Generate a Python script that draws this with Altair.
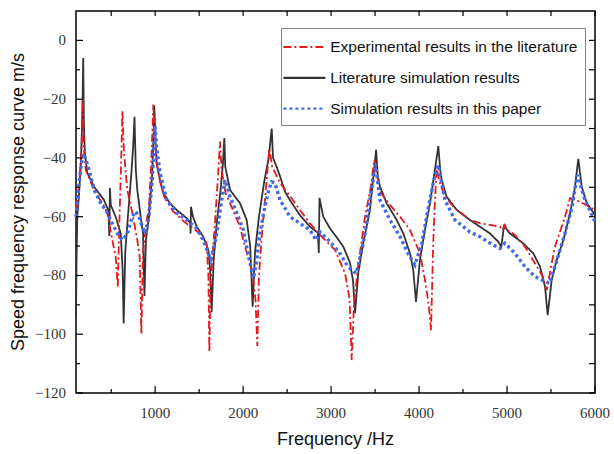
import altair as alt
import pandas as pd

# ---- data ----
series_names = [
    "Experimental results in the literature",
    "Literature simulation results",
    "Simulation results in this paper",
]

exp_freq = [100, 140, 165, 178, 188, 210, 305, 418, 456, 513, 551, 575, 590, 610, 628, 645, 683, 740, 797, 824, 843,
            862, 900, 930, 955, 979, 995, 1020, 1055, 1100, 1200, 1320, 1510, 1585, 1605, 1616, 1630, 1680, 1715, 1737,
            1755, 1800, 1850, 1964, 2021, 2100, 2140, 2161, 2180, 2215, 2260, 2298, 2330, 2419, 2533, 2646, 2760, 2874,
            3044, 3158, 3210, 3234, 3260, 3306, 3386, 3450, 3490, 3520, 3555, 3669, 3783, 3896, 4010, 4067, 4110, 4136,
            4160, 4180, 4200, 4230, 4294, 4408, 4578, 4692, 4806, 4919, 4950, 4976, 5000, 5090, 5204, 5318, 5400, 5451,
            5500, 5545, 5659, 5716, 5829, 6000]
exp_val = [-57, -48, -35, -20, -36, -44, -50.9, -56.4, -58.7, -68, -73.6, -84, -65, -45, -24, -38, -50.9, -58.7, -68,
           -73.6, -99.8, -72, -62, -56.4, -42, -21.8, -34, -42, -48, -53, -58, -61.5, -65.7, -69, -80, -106, -82, -62,
           -46, -34.4, -44, -52, -55.4, -63.4, -70.2, -78, -88, -104, -80, -65.6, -50, -36.7, -43, -48.5, -53, -57.7,
           -62.3, -66.2, -71.3, -79.2, -88, -108.8, -90, -77, -60, -50, -40.7, -45, -51.5, -56, -60, -64.5, -72.4,
           -81.5, -90, -98.6, -70, -55, -43, -48, -53.2, -57.2, -61, -62.2, -62.8, -63.4, -64.5, -62.8, -64.5, -66.2,
           -70.2, -75.9, -80, -85, -77, -70.2, -60, -53.7, -54.9, -57.7]

lit_freq = [100, 106, 115, 135, 155, 168, 176, 182, 190, 200, 228, 305, 418, 470, 478, 486, 495, 551, 608, 630, 642,
            660, 690, 730, 750, 765, 780, 797, 835, 862, 878, 895, 930, 967, 980, 990, 1005, 1017, 1055, 1093, 1170,
            1245, 1358, 1398, 1402, 1407, 1430, 1472, 1547, 1604, 1625, 1642, 1665, 1700, 1740, 1770, 1786, 1797, 1851,
            1964, 2040, 2080, 2108, 2135, 2180, 2240, 2290, 2325, 2340, 2381, 2419, 2476, 2533, 2646, 2760, 2850, 2860,
            2868, 2911, 2987, 3063, 3139, 3215, 3250, 3272, 3309, 3366, 3442, 3480, 3512, 3530, 3555, 3631, 3745, 3821,
            3897, 3934, 3965, 4010, 4067, 4124, 4180, 4219, 4240, 4257, 4314, 4428, 4578, 4692, 4806, 4900, 4935, 4965,
            5033, 5185, 5299, 5375, 5432, 5462, 5508, 5564, 5640, 5716, 5773, 5810, 5849, 5906, 6000]
lit_val = [-94, -75, -60, -52, -42, -30, -18, -6, -28, -38, -45, -49.8, -54.3, -58, -66.6, -50.2, -56, -60, -65.7, -78,
           -96.3, -72, -60, -45, -36, -26, -44, -50.9, -60, -65.7, -87, -68, -60, -45, -34, -22.2, -35, -42, -47.5,
           -52, -55.5, -57.7, -60.5, -62, -65.7, -56.6, -60, -63.4, -66.8, -71.3, -78, -92.4, -75, -62, -52, -42,
           -33.2, -43, -50.9, -55.4, -61.1, -70, -90.6, -72, -60, -48, -40, -30, -40, -43, -46.2, -51.5, -54.4, -59.5,
           -63.4, -65.5, -72.4, -53.6, -60, -64, -67, -70.2, -75.7, -82, -92.8, -79, -68.9, -57.7, -46.3, -37.2, -46,
           -49.7, -55.4, -61.1, -65.7, -72.5, -78.2, -89, -74.7, -64.5, -55.4, -44.1, -36, -44, -47.5, -53.2, -57.7,
           -61.1, -63.4, -65.7, -68.5, -70.2, -63.2, -65.7, -69.1, -72.5, -77, -83.8, -93.5, -81.5, -74.7, -68, -58.9,
           -49.8, -40.3, -49.8, -55.4, -59.4]

sim_freq = [100, 130, 160, 188, 248, 305, 381, 456, 513, 570, 627, 683, 740, 778, 816, 854, 892, 930, 967, 985, 998,
            1015, 1055, 1131, 1245, 1358, 1472, 1547, 1604, 1630, 1680, 1718, 1756, 1794, 1851, 1927, 2002, 2040, 2080,
            2116, 2150, 2191, 2248, 2290, 2325, 2362, 2419, 2533, 2646, 2760, 2828, 2874, 2987, 3101, 3192, 3283, 3330,
            3386, 3465, 3505, 3555, 3669, 3783, 3874, 3953, 4033, 4101, 4169, 4219, 4294, 4408, 4578, 4692, 4806, 4919,
            4976, 5090, 5204, 5318, 5480, 5545, 5659, 5739, 5799, 5886, 6000]
sim_val = [-60, -50, -42, -38.5, -43.9, -50.8, -55.4, -58.7, -62.3, -65.7, -68, -65.7, -60, -58.2, -60, -63.4, -65.7,
           -60, -47.5, -37, -29.2, -36, -45, -54.3, -58.7, -61.1, -64, -68, -72.5, -74.5, -69, -62.3, -54.3, -47.5,
           -53.2, -58.7, -64.5, -70.2, -76, -81, -76, -65.6, -56.6, -51, -48.1, -48.6, -54.3, -60, -62.3, -64.5, -68,
           -65.2, -68.5, -72.5, -77, -79.3, -74, -65.7, -49.8, -42, -54.3, -61.1, -66.8, -72.5, -76.4, -68.9, -57.6,
           -47.4, -42.4, -54.3, -61.1, -65.2, -66.8, -69, -70.8, -69, -72.5, -77, -80.4, -82.7, -77, -65.7, -56.6,
           -45.8, -54.3, -61.7]

x_ticks_major = [1000, 2000, 3000, 4000, 5000, 6000]
x_ticks_minor = [500, 1500, 2500, 3500, 4500, 5500]
y_ticks_major = [-120, -100, -80, -60, -40, -20, 0]
y_ticks_minor = [-110, -90, -70, -50, -30, -10]
x_title = "Frequency /Hz"
y_title = "Speed frequency response curve m/s"

# ---- styling ----
W, H = 519, 382
colors = ["#e3191c", "#333333", "#4169e8"]
dashes = [[8, 3, 2, 3], [1, 0], [3, 3]]

exp_df = pd.DataFrame({"freq": exp_freq, "value": exp_val, "series": series_names[0]})
lit_df = pd.DataFrame({"freq": lit_freq, "value": lit_val, "series": series_names[1]})
sim_df = pd.DataFrame({"freq": sim_freq, "value": sim_val, "series": series_names[2]})

x_scale = alt.Scale(domain=[100, 6000], nice=False, zero=False)
y_scale = alt.Scale(domain=[-120, 10], nice=False, zero=False)

legend = alt.Legend(
    title=None, orient="none", legendX=205, legendY=17,
    symbolType="M-2,0L2,0", symbolSize=441, symbolStrokeWidth=2.2, symbolOffset=4.4,
    labelFont="Liberation Sans", labelFontSize=15.5, labelColor="#111111",
    labelLimit=400, labelOffset=13.8, padding=7, rowPadding=9.8,
    fillColor="white", strokeColor="#808080",
)
color_enc = alt.Color("series:N", scale=alt.Scale(domain=series_names, range=colors), legend=legend)
dash_enc = alt.StrokeDash("series:N", scale=alt.Scale(domain=series_names, range=dashes), legend=legend)


def series_line(df, width):
    return alt.Chart(df).mark_line(strokeWidth=width).encode(
        x=alt.X("freq:Q", scale=x_scale, axis=None),
        y=alt.Y("value:Q", scale=y_scale, axis=None),
        color=color_enc, strokeDash=dash_enc)


lit = series_line(lit_df, 1.8)
exp = series_line(exp_df, 1.8)
sim = series_line(sim_df, 3.4)


# inward tick marks placed through the shared scales
def x_ticks(values, y0, y1):
    return alt.Chart(pd.DataFrame({"tx": values})).mark_rule(color="#000000", strokeWidth=1.2).encode(
        x=alt.X("tx:Q", scale=x_scale, axis=None), y=alt.value(y0), y2=alt.value(y1))


def y_ticks(values, x0, x1):
    return alt.Chart(pd.DataFrame({"ty": values})).mark_rule(color="#000000", strokeWidth=1.2).encode(
        y=alt.Y("ty:Q", scale=y_scale, axis=None), x=alt.value(x0), x2=alt.value(x1))


all_x = sorted(x_ticks_major + x_ticks_minor)
all_y = sorted(y_ticks_major + y_ticks_minor)
ticks = [
    x_ticks(x_ticks_major, H, H - 7),
    x_ticks(x_ticks_minor, H, H - 4),
    x_ticks(all_x, 0, 5),
    y_ticks(y_ticks_major, 0, 7),
    y_ticks(y_ticks_minor, 0, 4),
    y_ticks(all_y, W, W - 6),
]

# tick labels placed through the same scales
x_labels = alt.Chart(pd.DataFrame({"t": x_ticks_major})).mark_text(
    font="Liberation Serif", fontSize=15, color="#333333", baseline="middle", align="center"
).encode(x=alt.X("t:Q", scale=x_scale, axis=None), y=alt.value(H + 20), text=alt.Text("t:Q", format="d"))
y_labels = alt.Chart(pd.DataFrame({"t": y_ticks_major})).mark_text(
    font="Liberation Serif", fontSize=15, color="#333333", baseline="middle", align="right"
).encode(y=alt.Y("t:Q", scale=y_scale, axis=None), x=alt.value(-10), text=alt.Text("t:Q", format="d"))

# axis titles
x_title_mark = alt.Chart(pd.DataFrame({"label": [x_title]})).mark_text(
    font="Liberation Sans", fontSize=18, color="#111111", baseline="middle", align="center"
).encode(x=alt.value(W / 2), y=alt.value(H + 47), text="label:N")
y_title_mark = alt.Chart(pd.DataFrame({"label": [y_title]})).mark_text(
    font="Liberation Sans", fontSize=18, color="#111111", baseline="middle", align="center", angle=270
).encode(x=alt.value(-57), y=alt.value(H / 2), text="label:N")

chart = alt.layer(lit, exp, sim, x_labels, y_labels, x_title_mark, y_title_mark, *ticks).properties(
    width=W, height=H,
    padding={"left": 76, "top": 11, "right": 19, "bottom": 61},
    autosize=alt.AutoSizeParams(type="none"),
    background="white",
).configure_view(stroke="#000000", strokeWidth=1.5, fill="transparent")

chart.save("out.html", embed_options={"renderer": "svg", "actions": False})
